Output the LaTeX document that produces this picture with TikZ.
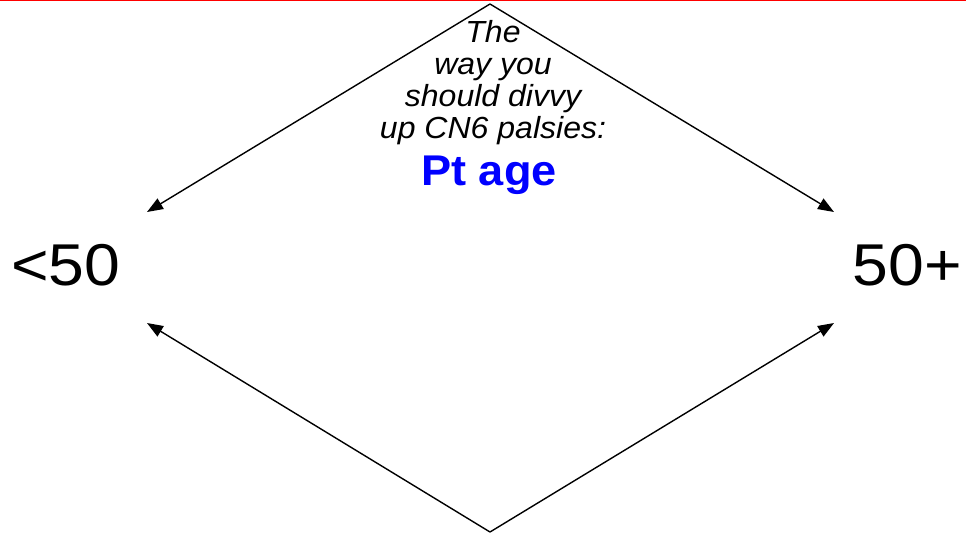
\documentclass[tikz,border=0pt]{standalone}
\usepackage{fontspec}
\setmainfont{Liberation Sans}
\newfontfamily\widesans[FakeStretch=1.05]{Liberation Sans}
\newfontfamily\widersans[FakeStretch=1.09]{Liberation Sans}
\usetikzlibrary{arrows.meta}
\begin{document}
\begin{tikzpicture}[x=1pt,y=-1pt,
  arr/.style={line width=1.4pt,-{Triangle[length=16pt,width=12pt]}},
  agelabel/.style={inner sep=0pt,font=\widersans\fontsize{59}{64}\selectfont},
  question/.style={inner sep=0pt,align=center,font=\widesans\fontsize{30.5}{32}\selectfont\itshape},
  answer/.style={inner sep=0pt,text=blue,font=\widesans\fontsize{43}{48}\selectfont\bfseries}]
\useasboundingbox (0,0) rectangle (966,533);
\fill[white] (0,0) rectangle (966,533);
\draw[red,line width=2.6pt] (0,0) -- (966,0);
\coordinate (top) at (490,4);
\coordinate (bot) at (490,532);
\coordinate (tl) at (147,212);
\coordinate (tr) at (834,212);
\coordinate (bl) at (147,323);
\coordinate (br) at (834,323);
\node[question,anchor=north] (q) at (493,20) {The\\way you\\should divvy\\up CN6 palsies:};
\node[answer,anchor=base] (a) at (489,185) {Pt age};
\node[agelabel,anchor=base west] (young) at (11,285) {<50};
\node[agelabel,anchor=base east] (old) at (962,285) {50+};
\draw[arr] (top) -- (tl);
\draw[arr] (top) -- (tr);
\draw[arr] (bot) -- (bl);
\draw[arr] (bot) -- (br);
\end{tikzpicture}
\end{document}
